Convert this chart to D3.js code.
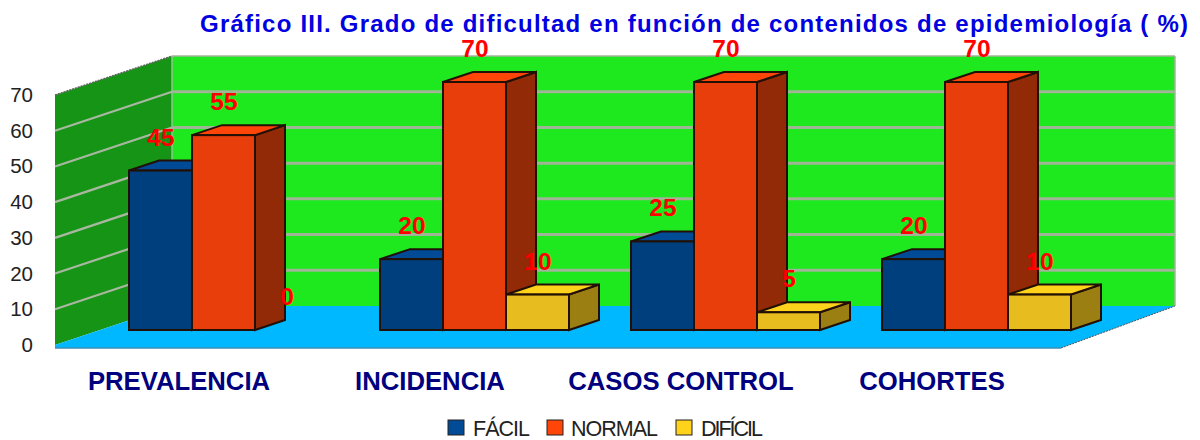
<!DOCTYPE html>
<html>
<head>
<meta charset="utf-8">
<script src="https://d3js.org/d3.v7.min.js"></script>
<style>
  html, body { margin: 0; padding: 0; background: #fff; }
  svg { display: block; }
  text { font-family: "Liberation Sans", Arial, sans-serif; }
</style>
</head>
<body>
<div id="vis"></div>
<script>
var categories = ["PREVALENCIA", "INCIDENCIA", "CASOS CONTROL", "COHORTES"];
var facil = [45, 20, 25, 20];
var normal = [55, 70, 70, 70];
var dificil = [0, 10, 5, 10];
var seriesNames = ["FÁCIL", "NORMAL", "DIFÍCIL"];
var yTicks = [0, 10, 20, 30, 40, 50, 60, 70];
var titleText = "Gráfico III. Grado de dificultad en función de contenidos de epidemiología ( %)";

var seriesValues = [facil, normal, dificil];
var colors = [
  {front: "#003f7d", top: "#004a96", side: "#00295a"},
  {front: "#e83e0c", top: "#ff4508", side: "#922a08"},
  {front: "#e6bc1e", top: "#ffd21c", side: "#9c7f12"}
];

var width = 1200, height = 440;
var svg = d3.select("#vis").append("svg")
  .attr("width", width)
  .attr("height", height);

// the 3d box: front plane of the axis, and how far back the wall goes
var frontLeft = 55, backLeft = 172, backRight = 1175, frontRight = 1061;
var zeroY = 345, wallDy = -39;
var barBase = 330, barDx = 30, barDy = -10;

var y = d3.scaleLinear().domain([0, 70]).range([zeroY, 95]);
// bars stand further forward than the axis so they scale a little smaller
var barH = d3.scaleLinear().domain([0, 70]).range([0, 248]);

var x = d3.scaleBand().domain(categories).range([129, 1071]).paddingInner(0.247).paddingOuter(0);
var xSeries = d3.scaleBand().domain(seriesNames).range([0, x.bandwidth()]);

// back wall
svg.append("rect")
  .attr("x", backLeft).attr("y", y(70) + wallDy)
  .attr("width", backRight - backLeft).attr("height", zeroY - y(70))
  .attr("fill", "#1ee81e");

// left wall
svg.append("path")
  .attr("d", d3.line()([
    [frontLeft, y(70)], [backLeft, y(70) + wallDy],
    [backLeft, zeroY + wallDy], [frontLeft, zeroY]
  ]) + "Z")
  .attr("fill", "#169416");

// wall border
svg.append("line")
  .attr("x1", backLeft).attr("x2", backRight)
  .attr("y1", y(70) + wallDy).attr("y2", y(70) + wallDy)
  .attr("stroke", "#a3b59a").attr("stroke-width", 1.5);
svg.append("line")
  .attr("x1", backRight).attr("x2", backRight)
  .attr("y1", y(70) + wallDy).attr("y2", zeroY + wallDy)
  .attr("stroke", "#a3b59a").attr("stroke-width", 1.5);
svg.append("line")
  .attr("x1", frontLeft).attr("x2", backLeft)
  .attr("y1", y(70)).attr("y2", y(70) + wallDy)
  .attr("stroke", "#666").attr("stroke-width", 1.5)
  .attr("stroke-dasharray", "2 1");

// gridlines, back wall and left wall
var gridVals = yTicks.slice(1, -1);
svg.selectAll("line.back").data(gridVals).enter().append("line")
  .attr("class", "back")
  .attr("x1", backLeft).attr("x2", backRight)
  .attr("y1", function(d) { return y(d) + wallDy; })
  .attr("y2", function(d) { return y(d) + wallDy; })
  .attr("stroke", "#9fb596").attr("stroke-width", 3);

svg.selectAll("line.side").data(gridVals).enter().append("line")
  .attr("class", "side")
  .attr("x1", frontLeft).attr("x2", backLeft)
  .attr("y1", function(d) { return y(d); })
  .attr("y2", function(d) { return y(d) + wallDy; })
  .attr("stroke", "#a8b8a0").attr("stroke-width", 2.2);

// vertical edge between the walls
svg.append("line")
  .attr("x1", backLeft).attr("x2", backLeft)
  .attr("y1", y(70) + wallDy).attr("y2", zeroY + wallDy)
  .attr("stroke", "#8fc48f").attr("stroke-width", 1.5);

// floor
svg.append("path")
  .attr("d", d3.line()([
    [frontLeft, zeroY], [backLeft, zeroY + wallDy], [backRight, zeroY + wallDy],
    [frontRight, zeroY + 3], [frontLeft, zeroY + 3]
  ]) + "Z")
  .attr("fill", "#00b8ff");

svg.append("line")
  .attr("x1", frontLeft).attr("x2", frontRight)
  .attr("y1", zeroY + 3).attr("y2", zeroY + 3)
  .attr("stroke", "#3d8fb5").attr("stroke-width", 1.5);

svg.append("line")
  .attr("x1", frontRight).attr("x2", backRight)
  .attr("y1", zeroY + 3).attr("y2", zeroY + wallDy)
  .attr("stroke", "#555").attr("stroke-width", 1)
  .attr("stroke-dasharray", "2 1");

// y axis
var yAxis = svg.append("g")
  .attr("transform", "translate(" + frontLeft + ",0)")
  .call(d3.axisLeft(y).tickValues(yTicks).tickSize(0).tickPadding(22));
yAxis.select(".domain").remove();
yAxis.selectAll("text")
  .attr("font-family", "Liberation Sans, Arial, sans-serif")
  .attr("font-size", 20.5)
  .attr("fill", "#222");

// bars
var outline = "#221006";
categories.forEach(function(cat, i) {
  var g = svg.append("g").attr("class", "group");
  seriesNames.forEach(function(name, s) {
    var v = seriesValues[s][i];
    var left = x(cat) + xSeries(name);
    var w = xSeries.bandwidth();
    var top = barBase - barH(v);
    if (v > 0) {
      g.append("path")
        .attr("d", d3.line()([
          [left + w, top], [left + w + barDx, top + barDy],
          [left + w + barDx, barBase + barDy], [left + w, barBase]
        ]) + "Z")
        .attr("fill", colors[s].side).attr("stroke", outline).attr("stroke-width", 2);
      g.append("path")
        .attr("d", d3.line()([
          [left, top], [left + barDx, top + barDy],
          [left + w + barDx, top + barDy], [left + w, top]
        ]) + "Z")
        .attr("fill", colors[s].top).attr("stroke", outline).attr("stroke-width", 2);
      g.append("rect")
        .attr("x", left).attr("y", top)
        .attr("width", w).attr("height", barH(v))
        .attr("fill", colors[s].front).attr("stroke", outline).attr("stroke-width", 2);
    }
  });
});

// value labels go on top so the bars never hide them
categories.forEach(function(cat, i) {
  seriesNames.forEach(function(name, s) {
    var v = seriesValues[s][i];
    svg.append("text")
      .attr("x", x(cat) + xSeries(name) + 32)
      .attr("y", barBase - barH(v) - 25)
      .attr("text-anchor", "middle")
      .attr("font-size", 24.5)
      .attr("font-weight", "bold")
      .attr("fill", "#f00")
      .text(v);
  });
});

// category labels
svg.selectAll("text.cat").data(categories).enter().append("text")
  .attr("class", "cat")
  .attr("x", function(d) { return x(d) + 50; })
  .attr("y", 390)
  .attr("text-anchor", "middle")
  .attr("font-size", 25.7)
  .attr("font-weight", "bold")
  .attr("fill", "#00007f")
  .text(function(d) { return d; });

// title
svg.append("text")
  .attr("x", 200).attr("y", 32)
  .attr("font-size", 24)
  .attr("font-weight", "bold")
  .attr("fill", "#0000e0")
  .attr("textLength", 988)
  .text(titleText);

// legend
var legendBox = [448, 547, 676];
var legendText = [473, 571, 701];
var legendLen = [57, 87, 62];
seriesNames.forEach(function(name, s) {
  svg.append("rect")
    .attr("x", legendBox[s]).attr("y", 420)
    .attr("width", 16).attr("height", 15)
    .attr("fill", colors[s].top)
    .attr("stroke", "#222").attr("stroke-width", 1);
  svg.append("text")
    .attr("x", legendText[s]).attr("y", 436)
    .attr("font-size", 21.5)
    .attr("fill", "#222")
    .attr("textLength", legendLen[s])
    .text(name);
});
</script>
</body>
</html>
